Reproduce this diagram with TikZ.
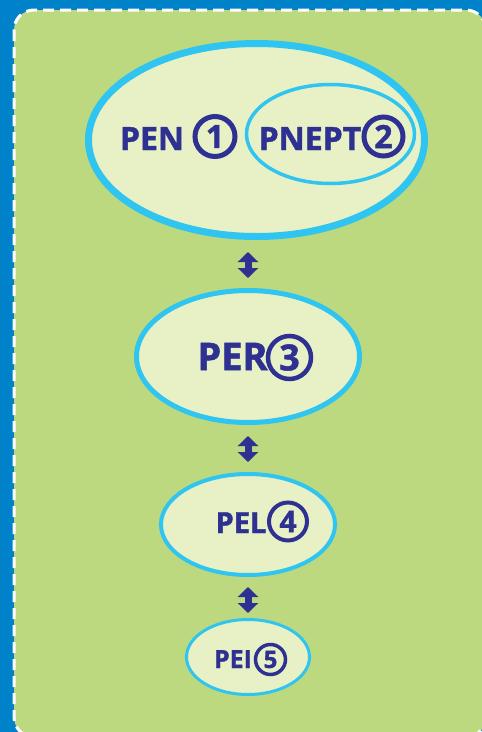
\documentclass[tikz,border=0pt]{standalone}
\usepackage{fontspec}
\setmainfont{Open Sans}[BoldFeatures={FakeBold=1.3}]
\usetikzlibrary{shapes.geometric,arrows.meta,calc}
\definecolor{bluebg}{RGB}{0,130,202}
\definecolor{panelgreen}{RGB}{189,217,127}
\definecolor{ellfill}{RGB}{232,241,198}
\definecolor{ellstroke}{RGB}{47,197,240}
\definecolor{txtblue}{RGB}{46,49,146}
\tikzset{
  ell/.style={ellipse, draw=ellstroke, fill=ellfill, inner sep=0pt},
  lbl/.style={text=txtblue, inner sep=0pt, anchor=base},
  num/.style={circle, draw=txtblue, text=txtblue, inner sep=0pt},
  dblarr/.style={draw=txtblue, line width=7pt, {Triangle[width=20pt,length=10pt]}-{Triangle[width=20pt,length=10pt]}},
}
\begin{document}
\begin{tikzpicture}[x=1pt,y=-1pt]
\useasboundingbox (0,0) rectangle (482,732);
\fill[bluebg] (0,0) rectangle (482,732);
\fill[panelgreen, rounded corners=20pt] (14,10) rectangle (486,737);
\draw[white, line width=3pt, dash pattern=on 11pt off 6pt, rounded corners=20pt] (14,10) rectangle (486,737);

% ellipses
\node[ell, line width=7pt, minimum width=336pt, minimum height=193pt] (big) at (256.5,140) {};
\node[ell, line width=3.5pt, minimum width=168pt, minimum height=99pt] (inner) at (330.5,134) {};
\node[ell, line width=5pt, minimum width=223pt, minimum height=132pt] (per) at (248,356.5) {};
\node[ell, line width=4pt, minimum width=174pt, minimum height=101pt] (pel) at (248,524.5) {};
\node[ell, line width=3pt, minimum width=123pt, minimum height=75pt] (pei) at (248,657) {};

% labels
\node[lbl, font=\bfseries\fontsize{32}{32}\selectfont] (pen) at (152,150) {PEN};
\node[num, line width=5pt, minimum size=40pt, font=\bfseries\fontsize{32}{32}\selectfont] (n1) at (215,136.5) {1};
\node[lbl, font=\bfseries\fontsize{32}{32}\selectfont] (pnept) at (310,150) {PNEPT};
\node[num, line width=5pt, minimum size=39pt, font=\bfseries\fontsize{32}{32}\selectfont] (n2) at (383.5,136.5) {2};

\node[lbl, font=\bfseries\fontsize{38}{38}\selectfont] (perl) at (232.5,370) {PER};
\node[num, line width=4.5pt, minimum size=43pt, font=\bfseries\fontsize{36}{36}\selectfont] (n3) at (289.5,357.5) {3};

\node[lbl, font=\bfseries\fontsize{29}{29}\selectfont] (pell) at (241,533) {PEL};
\node[num, line width=4pt, minimum size=38pt, font=\bfseries\fontsize{30}{30}\selectfont] (n4) at (288,521.5) {4};

\node[lbl, font=\bfseries\fontsize{25}{25}\selectfont] (peil) at (233,668) {PEI};
\node[num, line width=3.5pt, minimum size=30pt, font=\bfseries\fontsize{24}{24}\selectfont] (n5) at (270.5,659.5) {5};

% arrows
\draw[dblarr] ($(per.north |- big.south)+(0,12)$) -- ($(per.north)+(0,-10)$);
\draw[dblarr] ($(per.south)+(0,11)$) -- ($(pel.north)+(0,-10)$);
\draw[dblarr] ($(pel.south)+(0,10)$) -- ($(pei.north)+(0,-5)$);
\end{tikzpicture}
\end{document}
